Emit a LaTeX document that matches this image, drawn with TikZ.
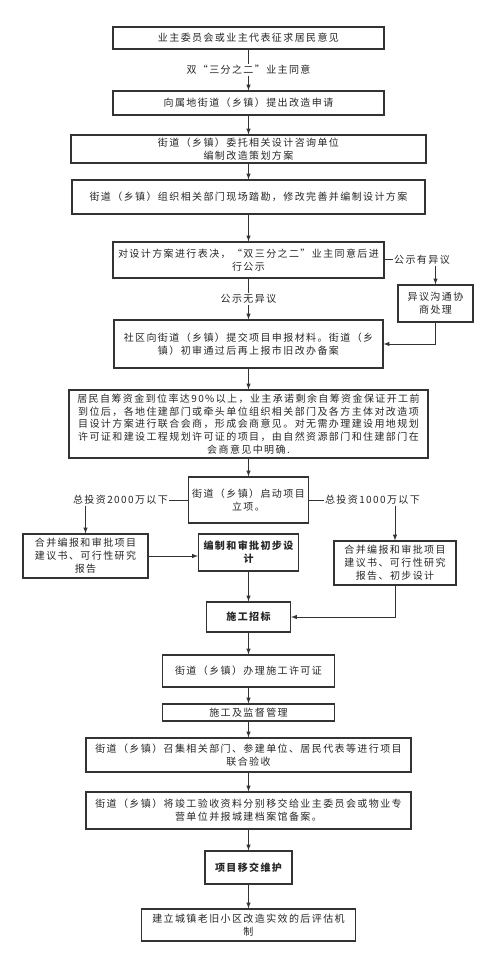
\documentclass[tikz,border=0pt]{standalone}
\usepackage{fontspec}
\newfontfamily\cjk[LetterSpace=14]{Noto Sans CJK SC}
\begin{document}
\begin{tikzpicture}[flowbox/.style={draw=black!80, line width=1.2pt, rectangle, align=center, inner sep=2pt, text=black!85, font=\cjk\fontsize{10}{13}\selectfont},
  labeltext/.style={fill=white, inner sep=1pt, text=black!85, font=\cjk\fontsize{10}{13}\selectfont},
  link/.style={draw=black!80, line width=1pt}, >=latex]
\useasboundingbox (-248.5pt,38pt) rectangle (251.5pt,-930pt);
\node (first)[flowbox, minimum width=27.1em, minimum height=2.2em]{业主委员会或业主代表征求居民意见};
\node (apply)[flowbox, minimum width=27.1em, minimum height=2.4em, below of=first, node distance=6.5em]{向属地街道（乡镇）提出改造申请};
\node (entrust)[flowbox, minimum width=35.5em, minimum height=2.8em, below of=apply, node distance=4.6em]{街道（乡镇）委托相关设计咨询单位\\编制改造策划方案};
\node (survey)[flowbox, minimum width=35.3em, minimum height=3.4em, below of=entrust, node distance=4.8em]{街道（乡镇）组织相关部门现场踏勘，修改完善并编制设计方案};
\node (vote)[flowbox, minimum width=27.1em, minimum height=3.6em, below of=survey, node distance=6.3em]{对设计方案进行表决，“双三分之二”业主同意后进\\行公示};
\node (objlabel)[labeltext, right of=vote, node distance=17.35em]{公示有异议};
\node (objection)[flowbox, minimum width=7.5em, minimum height=3.7em, right of=vote, node distance=18.7em, yshift=-4.35em]{异议沟通协\\商处理};
\node (submit)[flowbox, minimum width=26.9em, minimum height=4.8em, below of=vote, node distance=8.4em]{社区向街道（乡镇）提交项目申报材料。街道（乡\\镇）初审通过后再上报市旧改办备案};
\node (fund)[flowbox, minimum width=35.9em, minimum height=6.8em, below of=submit, node distance=8em, font=\cjk\fontsize{10}{12.6}\selectfont]{居民自筹资金到位率达90\%以上，业主承诺剩余自筹资金保证开工前\\到位后，各地住建部门或牵头单位组织相关部门及各方主体对改造项\\目设计方案进行联合会商，形成会商意见。对无需办理建设用地规划\\许可证和建设工程规划许可证的项目，由自然资源部门和住建部门在\\会商意见中明确.};
\node (start)[flowbox, minimum width=12em, minimum height=4.6em, below of=fund, node distance=7.6em]{街道（乡镇）启动项目\\立项。};
\node (inv2000)[labeltext, left of=start, node distance=12.8em]{总投资2000万以下};
\node (inv1000)[labeltext, right of=start, node distance=12.4em]{总投资1000万以下};
\node (prelim)[flowbox, minimum width=10em, minimum height=3.7em, below of=start, node distance=5.25em, font=\cjk\bfseries\fontsize{10}{13}\selectfont]{编制和审批初步设\\计};
\node (merge2000)[flowbox, minimum width=12.5em, minimum height=4.4em, left of=prelim, node distance=16.3em, yshift=-0.35em]{合并编报和审批项目\\建议书、可行性研究\\报告};
\node (merge1000)[flowbox, minimum width=12.2em, minimum height=4.4em, right of=prelim, node distance=14.65em, yshift=-1.05em]{合并编报和审批项目\\建议书、可行性研究\\报告、初步设计};
\node (bid)[flowbox, minimum width=8.4em, minimum height=3em, below of=prelim, node distance=6.45em, font=\cjk\bfseries\fontsize{10}{13}\selectfont]{施工招标};
\node (permit)[flowbox, minimum width=17.2em, minimum height=3.2em, below of=bid, node distance=5.4em]{街道（乡镇）办理施工许可证};
\node (supervise)[flowbox, minimum width=17.2em, minimum height=1.7em, below of=permit, node distance=4.15em]{施工及监督管理};
\node (accept)[flowbox, minimum width=32.5em, minimum height=3.4em, below of=supervise, node distance=4.25em]{街道（乡镇）召集相关部门、参建单位、居民代表等进行项目\\联合验收};
\node (archive)[flowbox, minimum width=32.5em, minimum height=3.7em, below of=accept, node distance=5.55em]{街道（乡镇）将竣工验收资料分别移交给业主委员会或物业专\\营单位并报城建档案馆备案。};
\node (handover)[flowbox, minimum width=8.7em, minimum height=3.3em, below of=archive, node distance=5.7em, font=\cjk\bfseries\fontsize{10}{13}\selectfont]{项目移交维护};
\node (evaluate)[flowbox, minimum width=21.4em, minimum height=3.2em, below of=handover, node distance=5.75em]{建立城镇老旧小区改造实效的后评估机\\制};
% main column
\draw [link,->](first)--(apply) node[labeltext, midway](agree){双“三分之二”业主同意};
\draw [link,->](apply)--(entrust);
\draw [link,->](entrust)--(survey);
\draw [link,->](survey)--(vote);
\draw [link,->](vote)--(submit) node[labeltext, midway](noobj){公示无异议};
\draw [link,->](submit)--(fund);
\draw [link,->](fund)--(start);
\draw [link,->](prelim)--(bid);
\draw [link,->](bid)--(permit);
\draw [link,->](permit)--(supervise);
\draw [link,->](supervise)--(accept);
\draw [link,->](accept)--(archive);
\draw [link,->](archive)--(handover);
\draw [link,->](handover)--(evaluate);
% side branches
\draw [link](vote)--(objlabel);
\draw [link,->](objlabel.south -| objection)--(objection);
\draw [link,->](objection.south) |- (submit.east);
\draw [link](start)--(inv2000);
\draw [link,->](inv2000.south -| merge2000)--(merge2000);
\draw [link,->](merge2000.east)--(merge2000.east -| prelim.west);
\draw [link](start)--(inv1000);
\draw [link,->](inv1000.south -| merge1000)--(merge1000);
\draw [link,->](merge1000.south) |- (bid.east);
\end{tikzpicture}
\end{document}
